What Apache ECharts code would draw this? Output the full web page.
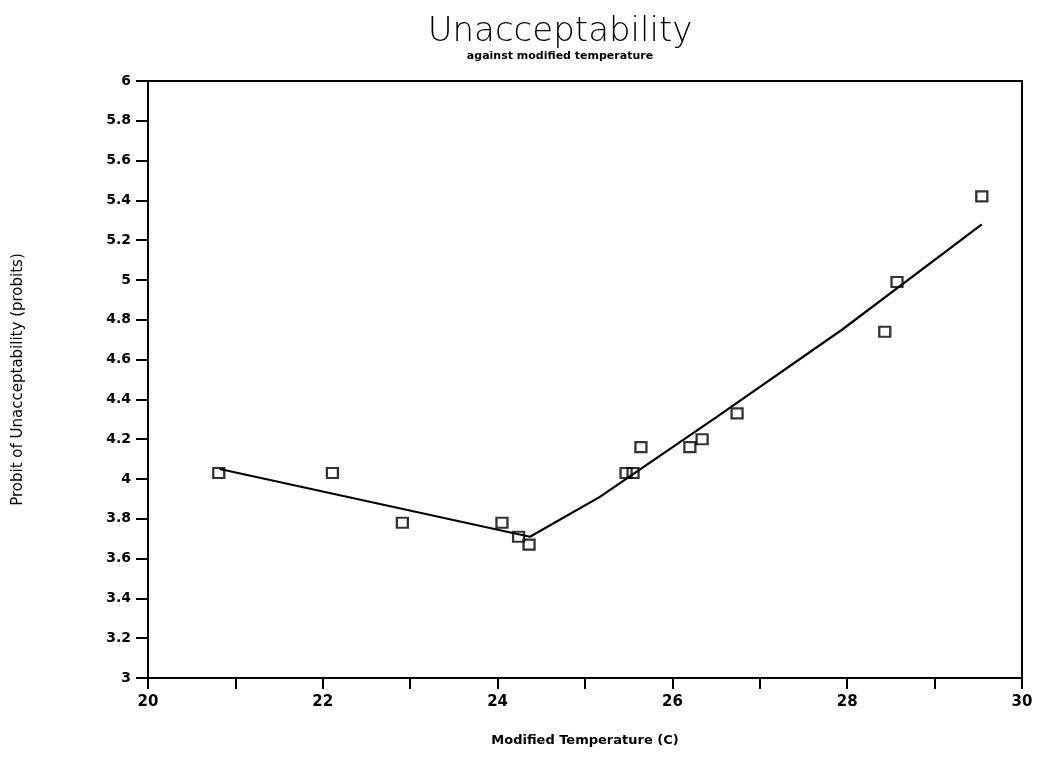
<!DOCTYPE html>
<html>
<head>
<meta charset="utf-8">
<script src="https://cdn.jsdelivr.net/npm/echarts@6/dist/echarts.min.js"></script>
<style>
html,body{margin:0;padding:0;background:#fff;}
#c{width:1037px;height:764px;}
</style>
</head>
<body>
<div id="c"></div>
<script>
// Observed data points
const temps   = [20.81, 22.11, 22.91, 24.05, 24.24, 24.36, 25.47, 25.55, 25.64, 26.20, 26.34, 26.74, 28.43, 28.57, 29.54];
const probits = [4.03, 4.03, 3.78, 3.78, 3.71, 3.67, 4.03, 4.03, 4.16, 4.16, 4.20, 4.33, 4.74, 4.99, 5.42];
// Fitted line
const fitTemps   = [20.82, 24.37, 25.17, 26.5, 27.94, 29.54];
const fitProbits = [4.05, 3.71, 3.91, 4.31, 4.75, 5.28];
// Axis settings
const xTicks = [20, 22, 24, 26, 28, 30];
const titleText = 'Unacceptability';
const subText = 'against modified temperature';
const xName = 'Modified Temperature (C)';
const yName = 'Probit of Unacceptability (probits)';

const chart = echarts.init(document.getElementById('c'));
const bold = {color:'#000', fontFamily:'DejaVu Sans', fontWeight:'bold'};
chart.setOption({
  backgroundColor:'#fff',
  animation:false,
  title:{
    text:titleText, subtext:subText, left:555, textAlign:'center', top:10, itemGap:2,
    textStyle:{color:'#000', fontFamily:'DejaVu Sans', fontWeight:300, fontSize:34},
    subtextStyle:Object.assign({fontSize:11}, bold)
  },
  grid:{left:148, right:15, top:81, bottom:86, show:true, borderColor:'#000', borderWidth:2},
  xAxis:{
    type:'value', min:20, max:30, interval:1,
    name:xName, nameLocation:'middle', nameGap:56,
    nameTextStyle:Object.assign({fontSize:13}, bold),
    axisLine:{lineStyle:{color:'#000', width:2}},
    axisTick:{lineStyle:{color:'#000', width:2}, length:11},
    splitLine:{show:false},
    axisLabel:Object.assign({fontSize:15, margin:17, formatter:v => xTicks.includes(v) ? String(v) : ''}, bold)
  },
  yAxis:{
    type:'value', min:3, max:6, interval:0.2,
    name:yName, nameLocation:'middle', nameGap:122,
    nameTextStyle:{color:'#000', fontFamily:'DejaVu Sans', fontWeight:500, fontSize:15},
    axisLine:{lineStyle:{color:'#000', width:2}},
    axisTick:{lineStyle:{color:'#000', width:2}, length:12},
    splitLine:{show:false},
    axisLabel:Object.assign({fontSize:14, margin:17, formatter:v => String(+v.toFixed(1))}, bold)
  },
  series:[
    {type:'line', data:fitTemps.map((t,i)=>[t, fitProbits[i]]), showSymbol:false,
     lineStyle:{color:'#000', width:2.2}, z:2},
    {type:'scatter', data:temps.map((t,i)=>[t, probits[i]]), symbol:'rect', symbolSize:[11,10],
     itemStyle:{color:'rgba(255,255,255,0)', borderColor:'#000', borderWidth:2.2}, z:3}
  ]
});
</script>
</body>
</html>
